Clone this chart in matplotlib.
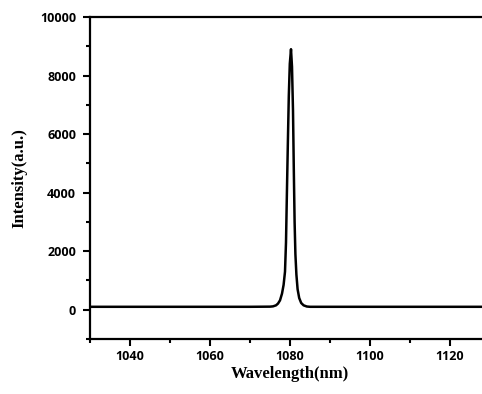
import matplotlib
matplotlib.use("Agg")
import matplotlib.pyplot as plt
from matplotlib.ticker import MultipleLocator

# spectre (nm, u.a.)
wavelength = [1030, 1050, 1070, 1075.0, 1075.75, 1076.5, 1077.0, 1077.5, 1078.0,
              1078.4, 1078.75, 1079.0, 1079.2, 1079.45, 1079.7, 1079.95, 1080.25,
              1080.5, 1080.75, 1080.95, 1081.15, 1081.35, 1081.6, 1081.9, 1082.3,
              1082.8, 1083.4, 1084.2, 1085, 1100, 1130]
intensity = [100, 100, 100, 105, 115, 150, 210, 320, 550,
             850, 1300, 2300, 3800, 5600, 7300, 8400, 8900,
             8300, 6800, 4800, 3000, 1900, 1200, 700, 400,
             230, 150, 110, 100, 100, 100]

xticks = [1040, 1060, 1080, 1100, 1120]
yticks = [0, 2000, 4000, 6000, 8000, 10000]

fig = plt.figure(figsize=(4.82, 3.94), dpi=100)
ax = fig.add_axes([90 / 482, 1 - 339 / 394, 400 / 482, 322 / 394])

ax.plot(wavelength, intensity, color="black", linewidth=1.8)

ax.set_xlim(1030, 1130)
ax.set_ylim(-1000, 10000)
ax.set_xticks(xticks)
ax.set_yticks(yticks)
ax.xaxis.set_minor_locator(MultipleLocator(10))
ax.yaxis.set_minor_locator(MultipleLocator(1000))

for s in ax.spines.values():
    s.set_linewidth(1.6)
ax.tick_params(which="major", direction="out", length=5, width=1.5, pad=3)
ax.tick_params(which="minor", direction="out", length=3, width=1.5)
ax.tick_params(axis="y", pad=5)
for lab in ax.get_xticklabels() + ax.get_yticklabels():
    lab.set_fontfamily("Open Sans")
    lab.set_fontweight("bold")
    lab.set_fontsize(9)

ax.set_xlabel("Wavelength(nm)", fontfamily="Liberation Serif", fontweight="bold",
              fontsize=12, labelpad=2)
ax.set_ylabel("Intensity(a.u.)", fontfamily="Liberation Serif", fontweight="bold",
              fontsize=12, labelpad=9)

fig.savefig("out.png", dpi=100)
